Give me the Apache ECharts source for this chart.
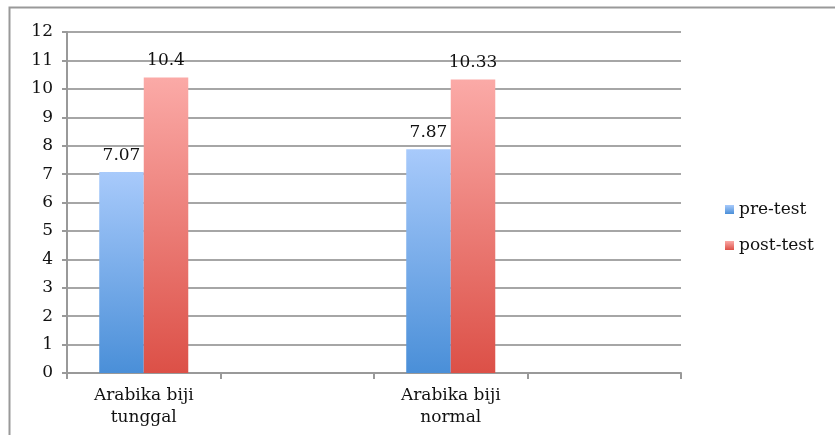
<!DOCTYPE html>
<html>
<head>
<meta charset="utf-8">
<script src="https://cdn.jsdelivr.net/npm/echarts@6/dist/echarts.min.js"></script>
<style>
  html, body { margin: 0; padding: 0; background: #fff; }
  #chart-container { width: 835px; height: 435px; }
</style>
</head>
<body>
<div id="chart-container"></div>
<script>
var categories = ['Arabika biji\ntunggal', '', 'Arabika biji\nnormal', ''];
var preTest = [7.07, null, 7.87, null];
var postTest = [10.4, null, 10.33, null];
var yTicks = { min: 0, max: 12, interval: 1 };

var dom = document.getElementById('chart-container');
var myChart = echarts.init(dom, null, { renderer: 'canvas' });

var font = 'DejaVu Serif';

function grad(top, bottom) {
  return new echarts.graphic.LinearGradient(0, 0, 0, 1, [
    { offset: 0, color: top },
    { offset: 1, color: bottom }
  ]);
}

var option = {
  animation: false,
  textStyle: { fontFamily: font },
  graphic: [
    {
      // frame of the chart area, only top and left edges are inside the picture
      type: 'polyline',
      shape: { points: [[9.5, 440], [9.5, 7.5], [840, 7.5]] },
      style: { fill: null, stroke: '#999', lineWidth: 2 }
    }
  ],
  legend: {
    data: ['pre-test', 'post-test'],
    orient: 'vertical',
    left: 720,
    top: 196,
    itemWidth: 9,
    itemHeight: 9,
    itemGap: 19,
    icon: 'rect',
    textStyle: { fontFamily: font, fontSize: 17, color: '#111' }
  },
  grid: {
    left: 67,
    right: 154,
    top: 32,
    bottom: 62
  },
  xAxis: {
    type: 'category',
    data: categories,
    axisLine: { lineStyle: { color: '#999', width: 2 } },
    axisTick: { show: true, interval: 0, length: 6, lineStyle: { color: '#999', width: 2 } },
    axisLabel: {
      interval: 0,
      fontFamily: font,
      fontSize: 17,
      color: '#111',
      lineHeight: 22,
      margin: 12
    }
  },
  yAxis: {
    type: 'value',
    min: yTicks.min,
    max: yTicks.max,
    interval: yTicks.interval,
    axisLine: { show: true, lineStyle: { color: '#999', width: 2 } },
    axisTick: { show: true, length: 5, lineStyle: { color: '#999', width: 2 } },
    splitLine: { lineStyle: { color: '#a6a6a6', width: 2 } },
    axisLabel: { fontFamily: font, fontSize: 17, color: '#111', margin: 14 }
  },
  series: [
    {
      name: 'pre-test',
      type: 'bar',
      data: preTest,
      barGap: '0%',
      barCategoryGap: '42%',
      itemStyle: { color: grad('#a8cafb', '#4a8fd8') },
      label: {
        show: true,
        position: 'top',
        distance: 8,
        fontFamily: font,
        fontSize: 17,
        color: '#111'
      }
    },
    {
      name: 'post-test',
      type: 'bar',
      data: postTest,
      itemStyle: { color: grad('#fbaaa7', '#dc5047') },
      label: {
        show: true,
        position: 'top',
        distance: 8,
        fontFamily: font,
        fontSize: 17,
        color: '#111'
      }
    }
  ]
};

myChart.setOption(option);
window.addEventListener('resize', myChart.resize);
</script>
</body>
</html>
